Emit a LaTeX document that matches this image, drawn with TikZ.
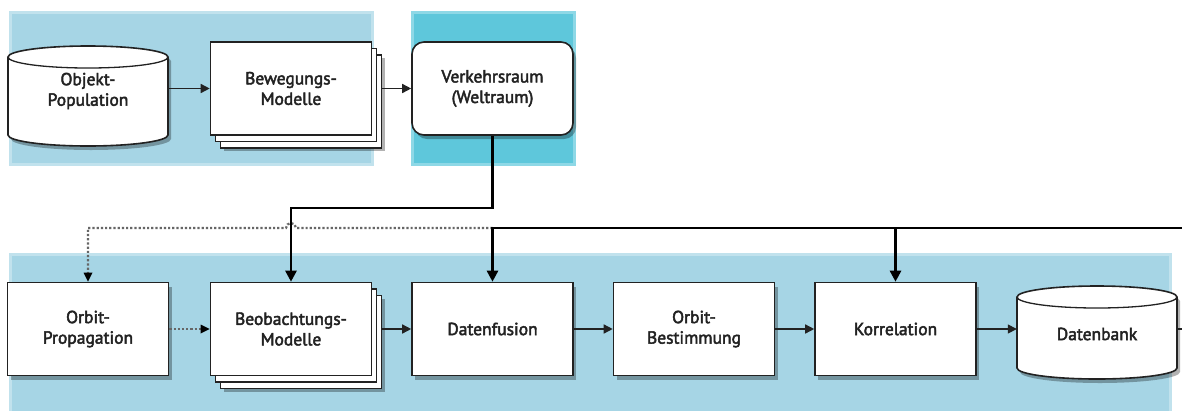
\documentclass[tikz,border=0pt]{standalone}
\usepackage{fontspec}
\setmainfont{PT Sans}
\newfontfamily\semib{PT Sans}[FakeBold=2.6]
\usetikzlibrary{shadows,arrows.meta}
\definecolor{panelA}{HTML}{A6D5E5}
\definecolor{panelB}{HTML}{5EC7DB}
\definecolor{edge}{HTML}{222222}
\definecolor{dotgray}{HTML}{666666}
\tikzset{
  lbl/.style={align=center, text=edge, font=\semib\fontsize{17.5}{20.5}\selectfont},
  box/.style={lbl, draw=edge, line width=1.6pt, fill=white, minimum width=161pt, minimum height=93pt,
    drop shadow={shadow xshift=3pt, shadow yshift=-4pt, fill=black, opacity=0.3}},
  roundbox/.style={box, rounded corners=12pt},
  stackbox/.style={lbl, draw=edge, line width=1.6pt, fill=white, minimum width=161pt, minimum height=93pt,
    drop shadow={shadow xshift=13pt, shadow yshift=-16pt, fill=black, opacity=0.3},
    double copy shadow={shadow xshift=5pt, shadow yshift=-6.5pt, draw=edge, line width=1.3pt, fill=white}},
  cyltext/.style={lbl, minimum width=160pt, minimum height=80pt},
  conn/.style={draw=edge, line width=1.5pt, -{Triangle[length=9pt,width=9pt]}},
  bus/.style={draw=black, line width=2.6pt},
  busarrow/.style={bus, -{Triangle[length=11pt,width=11pt]}},
  dotconn/.style={draw=dotgray, line width=2.2pt, dash pattern=on 2.2pt off 2pt},
  panel/.style={fill=#1, draw=#1!70!white, line width=3pt}
}
% cylinder: left x, right x, top ellipse centre y, bottom ellipse centre y, radius y
\newcommand\mycyl[5]{%
  \fill[black, opacity=0.3, shift={(3,4)}] (#1,#3) -- (#1,#4)
    arc[start angle=180, end angle=0, x radius={(#2-#1)/2}, y radius=#5] -- (#2,#3)
    arc[start angle=0, end angle=-180, x radius={(#2-#1)/2}, y radius=#5] -- cycle;
  \draw[draw=edge, line width=1.6pt, fill=white] (#1,#3) -- (#1,#4)
    arc[start angle=180, end angle=0, x radius={(#2-#1)/2}, y radius=#5] -- (#2,#3)
    arc[start angle=0, end angle=-180, x radius={(#2-#1)/2}, y radius=#5] -- cycle;
  \draw[draw=edge, line width=1.3pt] (#1,#3)
    arc[start angle=180, end angle=0, x radius={(#2-#1)/2}, y radius=#5];
}
\begin{document}
\begin{tikzpicture}[x=1pt, y=-1pt]
\useasboundingbox (0,0) rectangle (1182,410);
\fill[white] (0,0) rectangle (1182,410);
% panels
\fill[panel=panelA] (10,12) rectangle (372,164);
\fill[panel=panelB] (412,12) rectangle (574,164);
\fill[panel=panelA] (10,254) rectangle (1170,412);

% top row
\mycyl{8}{168}{57}{135}{11}
\node[cyltext] (obj) at (88,91) {Objekt-\\Population};
\node[stackbox] (bew) at (291,88.5) {Bewegungs-\\Modelle};
\node[roundbox] (verk) at (492.5,88.5) {Verkehrsraum\\(Weltraum)};

% bottom row
\node[box] (orb) at (88,329) {Orbit-\\Propagation};
\node[stackbox] (beob) at (291,329) {Beobachtungs-\\Modelle};
\node[box] (fus) at (492.5,329) {Datenfusion};
\node[box] (best) at (694,329) {Orbit-\\Bestimmung};
\node[box] (kor) at (895.5,329) {Korrelation};
\mycyl{1017}{1177}{297}{368}{11}
\node[cyltext] (db) at (1097,334) {Datenbank};

% coordinates for routing
\coordinate (k1) at (492.5,208);
\coordinate (k2) at (291,208);
\coordinate (rt) at (1182,228);
\coordinate (j1) at (492.5,228);
\coordinate (j2) at (895.5,228);
\coordinate (hopR) at (296,228);
\coordinate (d1) at (88,228);
\coordinate (dbout) at (1182,329);

% top connectors
\draw[conn] (obj.east |- bew.west) -- (bew.west);
\draw[conn] ([xshift=10pt]bew.east) -- (verk.west);

% dotted feedback with hop
\draw[dotconn] (j1) -- (hopR) arc[start angle=0, end angle=-180, radius=5] -- (d1) -- ([yshift=8pt]orb.north);
\path[fill=black] (orb.north) -- ++(-4.5,-9) -- ++(9,0) -- cycle;

% thick routes
\draw[busarrow] (verk.south) -- (k1) -- (k2) -- (beob.north);
\draw[busarrow] (rt) -- (j1) -- (fus.north);
\draw[busarrow] (j2) -- (kor.north);

% bottom connectors
\draw[dotconn] (orb.east) -- ([xshift=-8pt]beob.west);
\path[fill=black] (beob.west) -- ++(-9,-4.5) -- ++(0,9) -- cycle;
\draw[conn] ([xshift=10pt]beob.east) -- (fus.west);
\draw[conn] (fus.east) -- (best.west);
\draw[conn] (best.east) -- (kor.west);
\draw[conn] (kor.east) -- (kor.east -| db.west);
\draw[draw=edge, line width=1.5pt] (db.east |- dbout) -- (dbout);
\end{tikzpicture}
\end{document}
